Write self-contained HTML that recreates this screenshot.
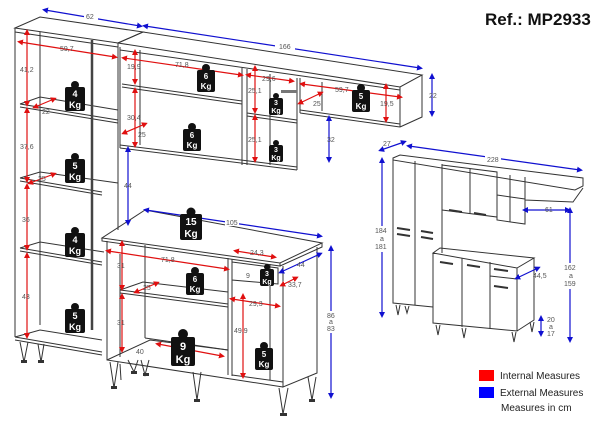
<!DOCTYPE html>
<html><head><meta charset="utf-8"><style>
html,body{margin:0;padding:0;background:#fff}
svg{display:block}
text{font-family:"Liberation Sans",sans-serif}
.d{font-size:7px;fill:#555}
.l{stroke:#333;stroke-width:1;fill:none}
.lt{stroke:#777;stroke-width:0.7;fill:none}
.r{stroke:#e01010;stroke-width:1.2;marker-start:url(#ar);marker-end:url(#ar)}
.b{stroke:#1010d0;stroke-width:1.2;marker-start:url(#ab);marker-end:url(#ab)}
.w{fill:#fff;font-weight:bold;text-anchor:middle}
</style></head><body>
<svg width="600" height="424" viewBox="0 0 600 424" xmlns="http://www.w3.org/2000/svg">
<defs>
<marker id="ar" viewBox="0 0 10 10" refX="5" refY="5" markerWidth="5" markerHeight="5" orient="auto-start-reverse"><path d="M0,0L10,5L0,10z" fill="#e01010"/></marker>
<marker id="ab" viewBox="0 0 10 10" refX="5" refY="5" markerWidth="5" markerHeight="5" orient="auto-start-reverse"><path d="M0,0L10,5L0,10z" fill="#1010d0"/></marker>
</defs>

<text x="485" y="25" font-size="17" font-weight="bold" fill="#111">Ref.: MP2933</text>

<!-- Tall cabinet -->
<g class="l">
<path d="M15,28 L40,17 L143,32 L118,43 Z"/>
<path d="M15,28 L15,337 M118,43 L118,230"/>
<path d="M15,32 L118,47"/>
<path d="M40,32 L40,325 M92,40 L92,330"/>
<path d="M20,104 L40,97 L118,110 M20,104 L118,120 M20,107 L118,123"/>
<path d="M20,178 L40,172 L118,183 M20,178 L102,192 M20,181 L102,195"/>
<path d="M20,248 L40,242 L104,252 M20,248 L102,262 M20,251 L102,265"/>
<path d="M15,337 L40,330 L102,340 M15,337 L102,352 M15,340 L102,355"/>
</g>
<path d="M92,40 L92,330" stroke="#444" stroke-width="2.5"/>
<!-- tall legs -->
<g class="l"><path d="M20,342 L24,362 L28,342 M38,344 L41,362 L44,344"/></g>
<g fill="#333"><rect x="21" y="360" width="6" height="3"/><rect x="38" y="360" width="6" height="3"/></g>

<!-- Upper cabinet -->
<g class="l">
<path d="M118,43 L143,32 L422,75 L400,87 Z"/>
<path d="M120,47 L120,148 M400,87 L400,127 M422,75 L422,117 L400,127"/>
<path d="M120,50 L400,90"/>
<path d="M120,148 L297,170 M120,145 L297,167"/>
<path d="M122,84 L242,101 M122,87 L242,104"/>
<path d="M140,50 L140,145 M242,68 L242,165 M247,69 L247,165 M270,74 L270,165 M297,78 L297,170 M300,78 L300,113"/>
<path d="M247,113 L297,120 M247,116 L297,123"/>
<path d="M300,113 L400,127 M300,110 L400,124"/>
<path d="M322,82 L322,111"/>
</g>
<rect x="281" y="90" width="16" height="3" fill="#777"/>

<!-- Counter cabinet -->
<g class="l">
<path d="M145,210 L322,243 L280,263 L102,238 Z"/>
<path d="M102,238 L102,241 L280,266 L280,263 M280,266 L322,247 L322,243"/>
<path d="M107,241 L107,360 L283,387 M283,266 L283,387 L317,373 L317,247"/>
<path d="M107,360 L150,340 L228,350"/>
<path d="M120,254 L120,357 M145,245 L145,338 M228,258 L228,375 M232,259 L232,376 M270,264 L270,380"/>
<path d="M120,290 L143,282 L228,292 M120,290 L228,304 M120,293 L228,307"/>
<path d="M145,338 L228,350"/>
<path d="M232,262 L278,268 L278,284 L232,280 Z"/>
<path d="M232,375 L283,382"/>
</g>
<!-- counter legs -->
<g class="l">
<path d="M110,362 L114,388 L118,362 M120,364 L121,380 M128,360 L134,372 L138,360 M141,360 L145,375 L149,360 M193,372 L197,400 L201,372 M279,388 L283,414 L288,388 M308,377 L312,400 L316,377"/>
</g>
<g fill="#333"><rect x="111" y="386" width="6" height="3"/><rect x="131" y="371" width="6" height="3"/><rect x="143" y="373" width="6" height="3"/><rect x="194" y="399" width="6" height="3"/><rect x="280" y="413" width="7" height="3"/><rect x="309" y="399" width="6" height="3"/></g>

<!-- Blue dims main -->
<line class="b" x1="45" y1="10" x2="140" y2="26"/>
<rect x="84" y="12" width="14" height="8" fill="#fff"/><text class="d" x="86" y="19">62</text>
<line class="b" x1="145" y1="26" x2="420" y2="68"/>
<rect x="275" y="41" width="20" height="9" fill="#fff"/><text class="d" x="279" y="49">166</text>
<line class="b" x1="432" y1="76" x2="432" y2="114"/><text class="d" x="429" y="98">22</text>
<line class="b" x1="329" y1="118" x2="329" y2="160"/><text class="d" x="327" y="142">32</text>
<line class="b" x1="128" y1="149" x2="128" y2="223"/><text class="d" x="124" y="188">44</text>
<line class="b" x1="146" y1="210" x2="320" y2="236"/>
<rect x="225" y="217" width="14" height="9" fill="#fff"/><text class="d" x="226" y="225">105</text>
<line class="b" x1="281" y1="272" x2="320" y2="254"/><text class="d" x="297" y="267">44</text>
<line class="b" x1="331" y1="248" x2="331" y2="396"/>
<rect x="325" y="311" width="12" height="22" fill="#fff"/>
<text class="d" x="327" y="318">86</text><text class="d" x="329" y="324">a</text><text class="d" x="327" y="331">83</text>

<!-- Red dims tall -->
<line class="r" x1="27" y1="32" x2="27" y2="104"/><text class="d" x="20" y="72">41,2</text>
<line class="r" x1="20" y1="42" x2="115" y2="57"/><text class="d" x="60" y="51">59,7</text>
<line class="r" x1="35" y1="107" x2="54" y2="99"/><text class="d" x="42" y="114">22</text>
<line class="r" x1="27" y1="110" x2="27" y2="180"/><text class="d" x="20" y="149">37,6</text>
<line class="r" x1="30" y1="183" x2="54" y2="174"/><text class="d" x="38" y="181">25</text>
<line class="r" x1="27" y1="186" x2="27" y2="248"/><text class="d" x="22" y="222">36</text>
<line class="r" x1="27" y1="255" x2="27" y2="336"/><text class="d" x="22" y="299">43</text>

<!-- Red dims upper -->
<line class="r" x1="135" y1="52" x2="135" y2="82"/><text class="d" x="127" y="69">19,9</text>
<line class="r" x1="124" y1="58" x2="241" y2="75"/><text class="d" x="175" y="67">71,8</text>
<line class="r" x1="135" y1="90" x2="135" y2="145"/><text class="d" x="127" y="120">30,4</text>
<line class="r" x1="124" y1="133" x2="145" y2="124"/><text class="d" x="138" y="137">25</text>
<line class="r" x1="255" y1="68" x2="255" y2="111"/><text class="d" x="248" y="93">25,1</text>
<line class="r" x1="248" y1="75" x2="292" y2="81"/><text class="d" x="262" y="81">29,6</text>
<line class="r" x1="255" y1="117" x2="255" y2="160"/><text class="d" x="248" y="142">25,1</text>
<line class="r" x1="302" y1="84" x2="400" y2="97"/><text class="d" x="335" y="92">59,7</text>
<line class="r" x1="300" y1="103" x2="321" y2="93"/><text class="d" x="313" y="106">25</text>
<line class="r" x1="386" y1="86" x2="386" y2="120"/><text class="d" x="380" y="106">19,5</text>

<!-- Red dims counter -->
<line class="r" x1="122" y1="243" x2="122" y2="288"/><text class="d" x="117" y="268">31</text>
<line class="r" x1="108" y1="251" x2="227" y2="269"/><text class="d" x="161" y="262">71,8</text>
<line class="r" x1="122" y1="296" x2="122" y2="350"/><text class="d" x="117" y="325">31</text>
<line class="r" x1="136" y1="292" x2="157" y2="283"/><text class="d" x="143" y="290">25</text>
<line class="r" x1="222" y1="356" x2="158" y2="344"/><text class="d" x="136" y="354">40</text>
<line class="r" x1="236" y1="251" x2="274" y2="257"/><text class="d" x="250" y="255">24,3</text>
<text class="d" x="246" y="278">9</text>
<line class="r" x1="282" y1="285" x2="296" y2="278"/><text class="d" x="288" y="287">33,7</text>
<line class="r" x1="232" y1="299" x2="278" y2="306"/><text class="d" x="249" y="306">29,3</text>
<line class="r" x1="243" y1="296" x2="243" y2="376"/><text class="d" x="234" y="333">49,9</text>

<!-- weights -->
<g fill="#111">
<g transform="translate(75,98)"><circle cx="0" cy="-13" r="4"/><rect x="-10" y="-11" width="20" height="24" rx="2"/><text class="w" y="-1" font-size="9">4</text><text class="w" y="10" font-size="9">Kg</text></g>
<g transform="translate(75,170)"><circle cx="0" cy="-13" r="4"/><rect x="-10" y="-11" width="20" height="24" rx="2"/><text class="w" y="-1" font-size="9">5</text><text class="w" y="10" font-size="9">Kg</text></g>
<g transform="translate(75,244)"><circle cx="0" cy="-13" r="4"/><rect x="-10" y="-11" width="20" height="24" rx="2"/><text class="w" y="-1" font-size="9">4</text><text class="w" y="10" font-size="9">Kg</text></g>
<g transform="translate(75,320)"><circle cx="0" cy="-13" r="4"/><rect x="-10" y="-11" width="20" height="24" rx="2"/><text class="w" y="-1" font-size="9">5</text><text class="w" y="10" font-size="9">Kg</text></g>
<g transform="translate(206,80)"><circle cx="0" cy="-12" r="4"/><rect x="-9" y="-10" width="18" height="22" rx="2"/><text class="w" y="-1" font-size="8">6</text><text class="w" y="9" font-size="8">Kg</text></g>
<g transform="translate(192,139)"><circle cx="0" cy="-12" r="4"/><rect x="-9" y="-10" width="18" height="22" rx="2"/><text class="w" y="-1" font-size="8">6</text><text class="w" y="9" font-size="8">Kg</text></g>
<g transform="translate(276,105)"><circle cx="0" cy="-9" r="3"/><rect x="-7" y="-7" width="14" height="17" rx="2"/><text class="w" y="0" font-size="7">3</text><text class="w" y="8" font-size="7">Kg</text></g>
<g transform="translate(276,152)"><circle cx="0" cy="-9" r="3"/><rect x="-7" y="-7" width="14" height="17" rx="2"/><text class="w" y="0" font-size="7">3</text><text class="w" y="8" font-size="7">Kg</text></g>
<g transform="translate(361,100)"><circle cx="0" cy="-12" r="4"/><rect x="-9" y="-10" width="18" height="22" rx="2"/><text class="w" y="-1" font-size="8">5</text><text class="w" y="9" font-size="8">Kg</text></g>
<g transform="translate(191,226)"><circle cx="0" cy="-14" r="4.5"/><rect x="-11" y="-12" width="22" height="26" rx="2"/><text class="w" y="-1" font-size="10">15</text><text class="w" y="11" font-size="10">Kg</text></g>
<g transform="translate(195,283)"><circle cx="0" cy="-12" r="4"/><rect x="-9" y="-10" width="18" height="22" rx="2"/><text class="w" y="-1" font-size="8">6</text><text class="w" y="9" font-size="8">Kg</text></g>
<g transform="translate(183,350)"><circle cx="0" cy="-16" r="5"/><rect x="-12" y="-13" width="24" height="29" rx="2"/><text class="w" y="0" font-size="11">9</text><text class="w" y="13" font-size="11">Kg</text></g>
<g transform="translate(264,358)"><circle cx="0" cy="-12" r="4"/><rect x="-9" y="-10" width="18" height="22" rx="2"/><text class="w" y="-1" font-size="8">5</text><text class="w" y="9" font-size="8">Kg</text></g>
<g transform="translate(267,276)"><circle cx="0" cy="-9" r="3"/><rect x="-7" y="-7" width="14" height="17" rx="2"/><text class="w" y="0" font-size="7">3</text><text class="w" y="8" font-size="7">Kg</text></g>
</g>

<!-- Small right overview -->
<g class="l">
<path d="M393,158 L400,155 L583,178 L583,186 L575,190 L393,160 Z"/>
<path d="M393,158 L393,303 L433,307 M415,161 L415,305 M442,164 L442,253"/>
<path d="M442,165 L497,172 L497,217 L442,210 M470,169 L470,214"/>
<path d="M497,172 L497,220 L525,224 L525,177 M510,175 L510,222 M497,195 L525,199"/>
<path d="M525,186 L525,200 L573,202 L583,188"/>
<path d="M433,253 L440,248 L534,258 L517,268 Z M433,253 L433,323 L517,331 L517,268 M517,331 L534,320 L534,258"/>
<path d="M462,258 L462,327 M490,262 L490,329 M490,276 L517,279"/>
<path d="M396,305 L398,315 L400,305 M405,306 L407,313 L409,306 M436,325 L438,335 L440,325 M462,328 L464,338 L466,328 M512,332 L514,342 L516,332 M530,322 L532,332 L534,322"/>
</g>
<g stroke="#333" stroke-width="2">
<path d="M397,228 L410,230 M397,234 L410,236 M421,231 L433,233 M421,237 L433,239 M449,210 L462,212 M474,213 L486,215 M440,262 L453,264 M467,265 L480,267 M494,269 L508,271 M494,286 L508,288"/>
</g>
<line class="b" x1="381" y1="150" x2="404" y2="142"/><text class="d" x="383" y="146">27</text>
<line class="b" x1="409" y1="146" x2="580" y2="170"/>
<rect x="485" y="155" width="16" height="9" fill="#fff"/><text class="d" x="487" y="162">228</text>
<line class="b" x1="382" y1="160" x2="382" y2="315"/>
<rect x="374" y="226" width="16" height="26" fill="#fff"/>
<text class="d" x="375" y="233">184</text><text class="d" x="380" y="241">a</text><text class="d" x="375" y="249">181</text>
<line class="b" x1="525" y1="210" x2="568" y2="210"/><text class="d" x="545" y="212">61</text>
<line class="b" x1="570" y1="210" x2="570" y2="340"/>
<rect x="562" y="263" width="16" height="26" fill="#fff"/>
<text class="d" x="564" y="270">162</text><text class="d" x="569" y="278">a</text><text class="d" x="564" y="286">159</text>
<line class="b" x1="517" y1="278" x2="538" y2="268"/><text class="d" x="533" y="278">44,5</text>
<line class="b" x1="541" y1="318" x2="541" y2="334"/>
<text class="d" x="547" y="322">20</text><text class="d" x="549" y="329">a</text><text class="d" x="547" y="336">17</text>

<!-- legend -->
<rect x="479" y="370" width="15" height="11" fill="#f00"/>
<text x="500" y="379" font-size="10" fill="#222">Internal Measures</text>
<rect x="479" y="387" width="15" height="11" fill="#00f"/>
<text x="500" y="396" font-size="10" fill="#222">External Measures</text>
<text x="501" y="411" font-size="10" fill="#222">Measures in cm</text>
</svg>
</body></html>
